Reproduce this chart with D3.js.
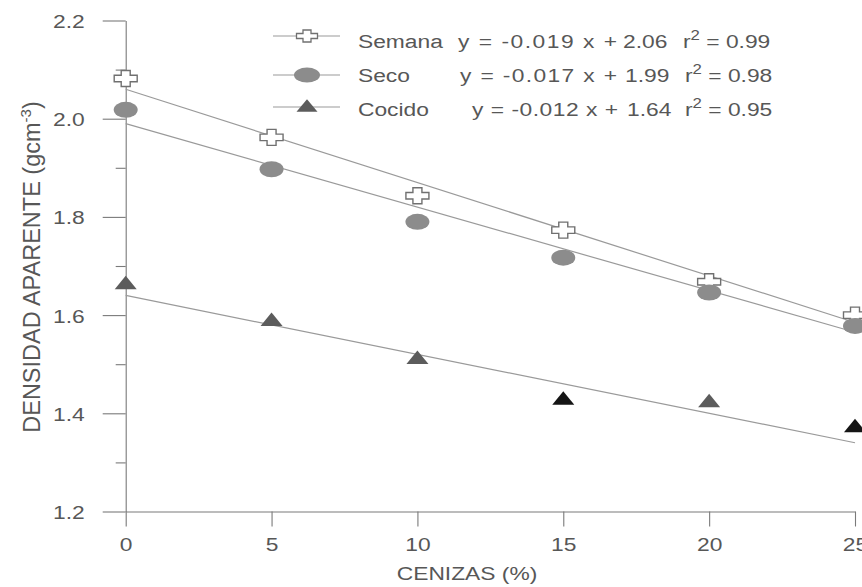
<!DOCTYPE html>
<html>
<head>
<meta charset="utf-8">
<script src="https://cdn.jsdelivr.net/npm/d3@7"></script>
<style>
  html, body { margin: 0; padding: 0; background: #fff; }
  svg { display: block; }
  text { font-family: "Liberation Sans", Arial, Helvetica, sans-serif; fill: #575757; }
</style>
</head>
<body>
<svg id="chart" width="862" height="587"></svg>
<script>
// Ash content (%) on the x axis
const cenizas = [0, 5, 10, 15, 20, 25];

// Bulk density (g cm^-3) per drying stage
const semana = [2.082, 1.962, 1.843, 1.773, 1.668, 1.600];
const seco   = [2.018, 1.897, 1.790, 1.717, 1.646, 1.578];
const cocido = [1.663, 1.588, 1.511, 1.428, 1.423, 1.372];

// Linear fits as printed in the legend
const seriesNames = ["Semana", "Seco", "Cocido"];
const slopes      = [-0.019, -0.017, -0.012];
const intercepts  = [2.06, 1.99, 1.64];
const r2Values    = [0.99, 0.98, 0.95];

// Axis ticks
const yMajorTicks = [1.2, 1.4, 1.6, 1.8, 2.0, 2.2];
const yMinorTicks = [1.3, 1.5, 1.7, 1.9, 2.1];
const xTicks      = [0, 5, 10, 15, 20, 25];

// Per-point fill of the triangles
const cocidoFill = ["#5c5c5c", "#5c5c5c", "#5c5c5c", "#151515", "#5c5c5c", "#151515"];

const FONT = 19, SX = 1.2;
const TEXT_COLOR = "#575757";
const svg = d3.select("#chart");

const x = d3.scaleLinear().domain([0, 25]).range([125.7, 855]);
const y = d3.scaleLinear().domain([1.2, 2.2]).range([511.5, 20.5]);

const axisColor = "#7a7a7a";
// plain hyphen for negative numbers
const num = (f) => (v) => d3.format(f)(v).replace("\u2212", "-");

// y axis: major ticks with labels, minor ticks shorter
const yAxis = svg.append("g").attr("transform", `translate(${x(0)},0)`)
  .call(d3.axisLeft(y).tickValues(yMajorTicks).tickSize(23).tickSizeOuter(0)
    .tickFormat(num(".1f")));
yAxis.selectAll("text")
  .attr("x", 0).attr("dy", null)
  .attr("transform", `translate(-41,7) scale(${SX},1)`)
  .style("font-size", FONT + "px").attr("text-anchor", "end")
  .style("font-family", null);
svg.append("g").attr("transform", `translate(${x(0)},0)`)
  .call(d3.axisLeft(y).tickValues(yMinorTicks).tickSize(10).tickSizeOuter(0).tickFormat(""))
  .select(".domain").remove();

// x axis
const xAxis = svg.append("g").attr("transform", `translate(0,${y(1.2)})`)
  .call(d3.axisBottom(x).tickValues(xTicks).tickSize(15).tickSizeOuter(0));
xAxis.selectAll("text")
  .attr("y", 0).attr("dy", null)
  .attr("transform", `translate(0,39) scale(${SX},1)`)
  .style("font-size", FONT + "px").style("font-family", null);

svg.selectAll(".domain, .tick line").attr("stroke", axisColor).attr("stroke-width", 1.1);
svg.selectAll(".tick text").attr("fill", TEXT_COLOR);

// axis titles
svg.append("text")
  .attr("transform", `translate(467,580) scale(${SX},1)`)
  .attr("text-anchor", "middle").style("font-size", FONT + "px")
  .text("CENIZAS (%)");

const yt = svg.append("text")
  .attr("transform", "translate(40,267) rotate(-90)")
  .attr("text-anchor", "middle").style("font-size", "23.5px");
yt.append("tspan").text("DENSIDAD APARENTE (gcm");
yt.append("tspan").attr("dy", -9).style("font-size", "15px").text("-3");
yt.append("tspan").attr("dy", 9).text(")");

// marker shapes
function crossPath(w, h, bw, bh) {
  const a = w / 2, b = h / 2, c = bw / 2, e = bh / 2;
  return `M${-c},${-b}H${c}V${-e}H${a}V${e}H${c}V${b}H${-c}V${e}H${-a}V${-e}H${-c}Z`;
}
function triPath(w, h) {
  return `M0,${-h * 0.62}L${w / 2},${h * 0.38}L${-w / 2},${h * 0.38}Z`;
}

// fitted lines
const fits = svg.append("g");
slopes.forEach((m, i) => {
  const line = d3.line().x(d => x(d)).y(d => y(m * d + intercepts[i]));
  fits.append("path").datum([0, 25]).attr("d", line)
    .attr("fill", "none").attr("stroke", "#9a9a9a").attr("stroke-width", 1.2);
});

// points
const pts = svg.append("g");
pts.selectAll(".semana").data(cenizas).join("path")
  .attr("transform", (d, i) => `translate(${x(d)},${y(semana[i])})`)
  .attr("d", crossPath(23, 16, 9, 6.5))
  .attr("fill", "#fff").attr("stroke", "#707070").attr("stroke-width", 1.4);
pts.selectAll(".seco").data(cenizas).join("ellipse")
  .attr("cx", d => x(d)).attr("cy", (d, i) => y(seco[i]))
  .attr("rx", 12).attr("ry", 8).attr("fill", "#8c8c8c");
pts.selectAll(".cocido").data(cenizas).join("path")
  .attr("transform", (d, i) => `translate(${x(d)},${y(cocido[i])})`)
  .attr("d", triPath(22, 13.5))
  .attr("fill", (d, i) => cocidoFill[i]);

// legend
const legRowLine = [36, 75, 107];
const legRowText = [47.5, 81.5, 115.5];
const legEqX = [458, 460, 472];
const legEqEnd = [617, 617, 618];
const legB = [623, 625, 627];
const legR = [683, 685, 685];
const leg = svg.append("g");
seriesNames.forEach((name, i) => {
  const ly = legRowLine[i];
  leg.append("line").attr("x1", 273).attr("x2", 340).attr("y1", ly).attr("y2", ly)
    .attr("stroke", "#9a9a9a").attr("stroke-width", 1.2);
  if (i === 0) {
    leg.append("path").attr("transform", `translate(307,${ly})`)
      .attr("d", crossPath(21, 12, 8, 5)).attr("fill", "#fff")
      .attr("stroke", "#707070").attr("stroke-width", 1.3);
  } else if (i === 1) {
    leg.append("ellipse").attr("cx", 307).attr("cy", ly).attr("rx", 13).attr("ry", 7.5)
      .attr("fill", "#8c8c8c");
  } else {
    leg.append("path").attr("transform", `translate(307,${ly})`)
      .attr("d", triPath(21, 12.5)).attr("fill", "#5c5c5c");
  }
  const ty = legRowText[i];
  leg.append("text").attr("transform", `translate(358,${ty}) scale(${SX},1)`)
    .style("font-size", FONT + "px").text(name);
  leg.append("text").attr("transform", `translate(${legEqX[i]},${ty}) scale(${SX},1)`)
    .style("font-size", FONT + "px")
    .attr("textLength", (legEqEnd[i] - legEqX[i]) / SX).attr("lengthAdjust", "spacing")
    .text(`y = ${num(".3f")(slopes[i])} x +`);
  leg.append("text").attr("transform", `translate(${legB[i]},${ty}) scale(${SX},1)`)
    .style("font-size", FONT + "px").text(num(".2f")(intercepts[i]));
  const rt = leg.append("text").attr("transform", `translate(${legR[i]},${ty}) scale(${SX},1)`)
    .style("font-size", FONT + "px");
  rt.append("tspan").text("r");
  rt.append("tspan").attr("dy", -8).style("font-size", "14px").text("2");
  rt.append("tspan").attr("dy", 8).text(" = " + num(".2f")(r2Values[i]));
});
</script>
</body>
</html>
